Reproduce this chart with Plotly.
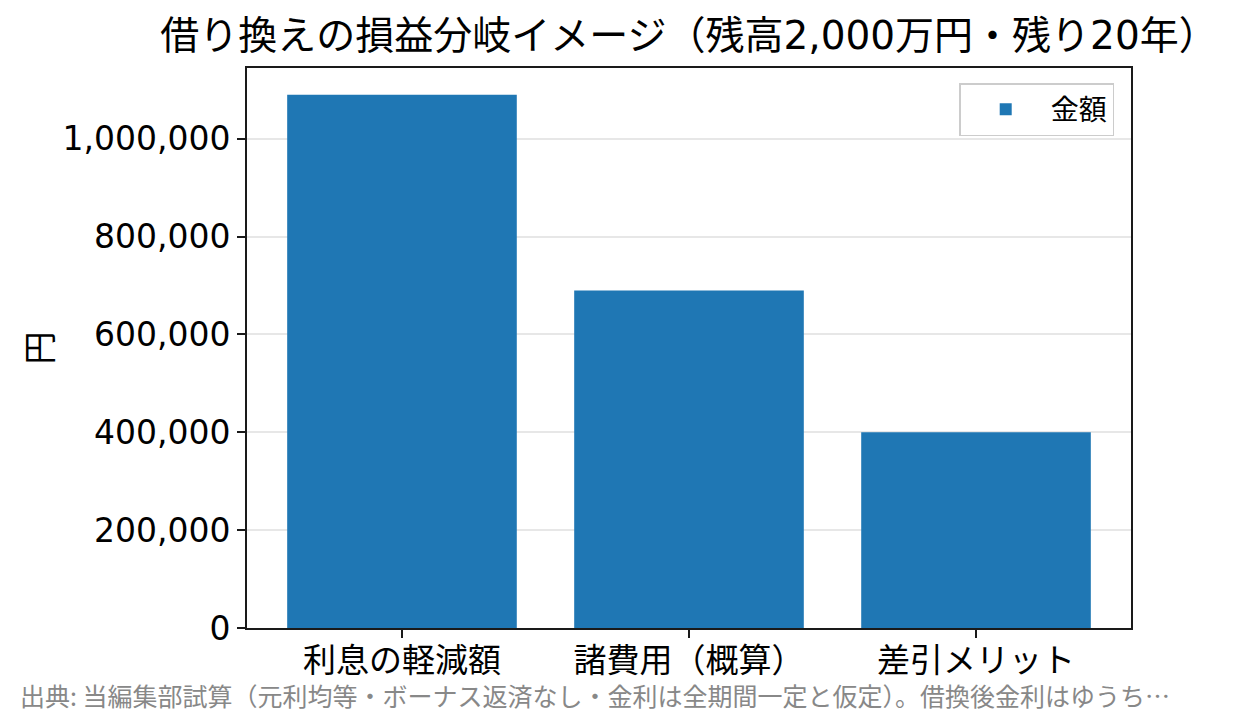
import plotly.graph_objects as go

# values
categories = ['利息の軽減額', '諸費用（概算）', '差引メリット']
amounts = [1090000, 690000, 400000]
y_ticks = [0, 200000, 400000, 600000, 800000, 1000000]

title_text = '借り換えの損益分岐イメージ（残高2,000万円・残り20年）'
source_text = '出典: 当編集部試算（元利均等・ボーナス返済なし・金利は全期間一定と仮定）。借換後金利はゆうち…'

# latin digits come from DejaVu (wider, like the reference), kana/kanji from Noto CJK
font_family = 'DejaVu Sans, Noto Sans CJK JP'
cjk_family = 'Noto Sans CJK JP'

fig = go.Figure()
fig.add_trace(go.Bar(x=categories,
                     y=amounts,
                     name='金額',
                     width=0.8,
                     marker=dict(color='#1f77b4', line=dict(width=0))))

# the page body has an 8px margin, so margins are trimmed by 8 on the left/top
fig.update_layout(width=1245, height=725,
                  margin=dict(l=239, r=122, t=60, b=105),
                  paper_bgcolor='white',
                  plot_bgcolor='white',
                  font=dict(family=font_family, color='black', size=33),
                  title=dict(text=title_text,
                             font=dict(size=39, color='black'),
                             x=0.5, xref='paper', xanchor='center',
                             y=1 - 27 / 725, yref='container', yanchor='middle'),
                  showlegend=True,
                  legend=dict(x=0.981, y=0.973, xanchor='right', yanchor='top',
                              bgcolor='rgba(255,255,255,0.8)',
                              bordercolor='#cccccc', borderwidth=1.5,
                              itemwidth=80,
                              font=dict(family=cjk_family, size=28)),
                  bargap=0.2)

fig.update_xaxes(range=[-0.54, 2.54],
                 showline=True, mirror=True, linecolor='#1a1a1a', linewidth=2,
                 ticks='outside', ticklen=8, tickwidth=2, tickcolor='#1a1a1a',
                 showgrid=False, layer='above traces',
                 ticklabelstandoff=-6,
                 tickfont=dict(family=cjk_family, size=33))

fig.update_yaxes(range=[0, 1144500],
                 tickvals=y_ticks, tickformat=',d',
                 showline=True, mirror=True, linecolor='#1a1a1a', linewidth=2,
                 ticks='outside', ticklen=8, tickwidth=2, tickcolor='#1a1a1a',
                 showgrid=True, gridcolor='rgba(176,176,176,0.3)', gridwidth=2,
                 zeroline=False, layer='above traces',
                 tickfont=dict(size=33),
                 title=dict(text='円', font=dict(family=cjk_family, size=33), standoff=0))

fig.add_annotation(text=source_text,
                   xref='paper', yref='paper',
                   x=(18 - 247) / 884, y=(628 - 695) / 560,
                   xanchor='left', yanchor='middle',
                   showarrow=False,
                   font=dict(family=cjk_family, size=25, color='#888888'))

fig.write_html("out.html")
